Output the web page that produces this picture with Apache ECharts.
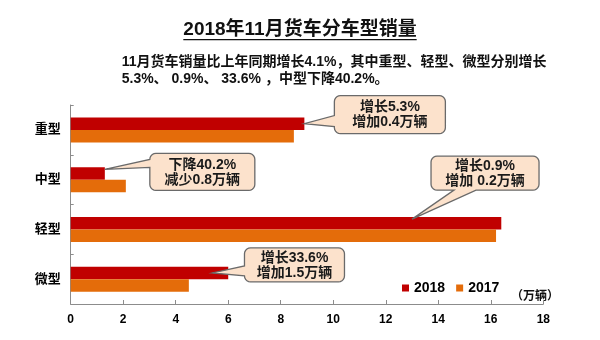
<!DOCTYPE html>
<html><head><meta charset="utf-8">
<script src="https://cdn.jsdelivr.net/npm/echarts@6/dist/echarts.min.js"></script>
<style>html,body{margin:0;padding:0;background:#fff}#c{width:600px;height:340px}</style>
</head><body><div id="c"></div>
<script>
// ---- data ----
const categories = ['重型', '中型', '轻型', '微型'];
const seriesNames = ['2018', '2017'];
const sales2018 = [8.9, 1.3, 16.4, 6.0];
const sales2017 = [8.5, 2.1, 16.2, 4.5];
const xMin = 0, xMax = 18, xStep = 2;
const unitLabel = '（万辆）';
const titleText = '2018年11月货车分车型销量';
const noteLines = ['11月货车销量比上年同期增长4.1%，其中重型、轻型、微型分别增长', '5.3%、 0.9%、 33.6% ，中型下降40.2%。'];
const calloutTexts = [['增长5.3%', '增加0.4万辆'], ['下降40.2%', '减少0.8万辆'], ['增长0.9%', '增加 0.2万辆'], ['增长33.6%', '增加1.5万辆']];
const calloutCategory = [0, 1, 2, 3];
const calloutValue = [8.9, 1.3, 13.0, 5.4];

// ---- styles ----
const FF = '"Liberation Sans", "Noto Sans CJK SC", sans-serif';
const RED = '#C00000', ORANGE = '#E46C0A';
// callout geometry relative to pointer tip: [dx, dy, w, h, side, b1, b2, tipDy]
const calloutGeom = [
  [30, -28, 111, 38, 'left', 20, 31, 0],
  [45, -16, 105, 37, 'left', 6, 14, -4],
  [19, -63, 108, 34, 'bottom', 23, 45, -4],
  [32, -25, 100, 34, 'left', 18, 28, 0]
];

const chart = echarts.init(document.getElementById('c'), null, {renderer: 'canvas'});
chart.setOption({
  animation: false,
  grid: {left: 70.7, right: 56.7, top: 105, bottom: 36, containLabel: false},
  legend: {
    data: seriesNames, left: 397, top: 276, icon: 'rect', itemWidth: 7, itemHeight: 7, itemGap: 11,
    selectedMode: false,
    textStyle: {fontSize: 14, fontWeight: 'bold', color: '#000', fontFamily: FF}
  },
  xAxis: {
    type: 'value', min: xMin, max: xMax, interval: xStep,
    axisLine: {show: true, lineStyle: {color: '#8c8c8c', width: 1}},
    axisTick: {show: true, inside: true, length: 4, lineStyle: {color: '#8c8c8c'}},
    splitLine: {show: false},
    axisLabel: {color: '#000', fontWeight: 'bold', fontSize: 12, fontFamily: FF, margin: 10}
  },
  yAxis: {
    type: 'category', data: categories, inverse: true,
    axisLine: {show: true, lineStyle: {color: '#8c8c8c', width: 1}},
    axisTick: {show: true, inside: true, length: 3, lineStyle: {color: '#8c8c8c'}},
    axisLabel: {color: '#000', fontWeight: 'bold', fontSize: 13, fontFamily: FF, margin: 10}
  },
  series: [
    {name: seriesNames[0], type: 'bar', data: sales2018, barWidth: 12.5, barGap: '0%', itemStyle: {color: RED}},
    {name: seriesNames[1], type: 'bar', data: sales2017, barWidth: 12.5, barGap: '0%', itemStyle: {color: ORANGE}}
  ]
});

function arcPts(cx, cy, r, a0, a1) {
  const pts = [];
  const n = 5;
  for (let k = 0; k <= n; k++) {
    const a = a0 + (a1 - a0) * k / n;
    pts.push([cx + r * Math.cos(a), cy + r * Math.sin(a)]);
  }
  return pts;
}

function calloutPoints(x, y, w, h, r, side, b1, b2, tx, ty) {
  const P = Math.PI;
  let pts = [];
  pts = pts.concat(arcPts(x + w - r, y + r, r, -P / 2, 0));
  pts = pts.concat(arcPts(x + w - r, y + h - r, r, 0, P / 2));
  if (side === 'bottom') pts.push([x + b2, y + h], [tx, ty], [x + b1, y + h]);
  pts = pts.concat(arcPts(x + r, y + h - r, r, P / 2, P));
  if (side === 'left') pts.push([x, y + b2], [tx, ty], [x, y + b1]);
  pts = pts.concat(arcPts(x + r, y + r, r, P, 1.5 * P));
  return pts;
}

function barCenterY(seriesIdx, idx) {
  try {
    const lay = chart.getModel().getSeriesByIndex(seriesIdx).getData().getItemLayout(idx);
    return lay.y + lay.height / 2;
  } catch (e) {
    return chart.convertToPixel({gridIndex: 0}, [0, idx])[1] - 6.25;
  }
}

const graphics = [];
// title
const titleFont = 'bold 19px ' + FF;
const ctx = document.createElement('canvas').getContext('2d');
ctx.font = titleFont;
const tw = ctx.measureText(titleText).width;
graphics.push({type: 'text', style: {text: titleText, x: 300, y: 30, font: titleFont, textAlign: 'center', textVerticalAlign: 'middle', fill: '#111'}});
graphics.push({type: 'rect', shape: {x: 300 - tw / 2, y: 39, width: tw, height: 1.3}, style: {fill: '#111'}});
// note
graphics.push({type: 'text', style: {text: noteLines.join('\n'), x: 121.7, y: 71, font: 'bold 14px ' + FF, lineHeight: 17, textAlign: 'left', textVerticalAlign: 'middle', fill: '#111'}});
// unit
graphics.push({type: 'text', style: {text: unitLabel, x: 535, y: 297, font: 'bold 12px ' + FF, textAlign: 'center', textVerticalAlign: 'middle', fill: '#111'}});

// callouts
calloutTexts.forEach((lines, i) => {
  const g = calloutGeom[i];
  const cat = calloutCategory[i];
  const tx = chart.convertToPixel({gridIndex: 0}, [calloutValue[i], cat])[0];
  const ty = barCenterY(0, cat) + g[7];
  const bx = tx + g[0], by = ty + g[1];
  graphics.push({type: 'polygon', z: 100, shape: {points: calloutPoints(bx, by, g[2], g[3], 6, g[4], g[5], g[6], tx, ty)},
    style: {fill: '#FCE2CC', stroke: '#6a6a6a', lineWidth: 1.3}});
  graphics.push({type: 'text', z: 101, style: {text: lines.join('\n'), x: bx + g[2] / 2, y: by + g[3] / 2 + 0.5, font: 'bold 14px ' + FF, lineHeight: 15, textAlign: 'center', textVerticalAlign: 'middle', fill: '#1a1a1a'}});
});

chart.setOption({graphic: graphics});
</script></body></html>
